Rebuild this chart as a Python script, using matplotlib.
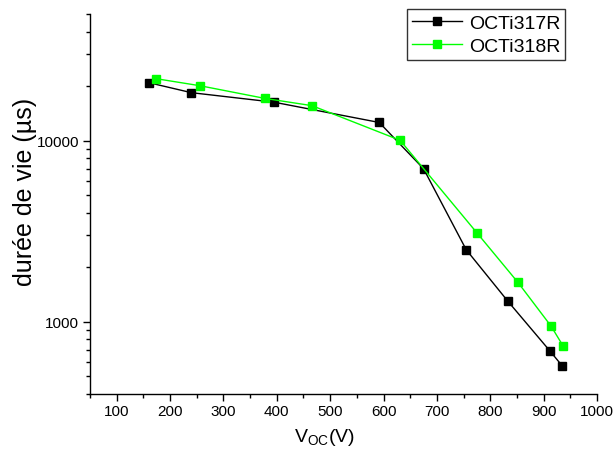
import matplotlib
matplotlib.use('Agg')
import matplotlib.pyplot as plt
from matplotlib.ticker import FixedLocator, LogLocator, NullFormatter, FuncFormatter, MultipleLocator

plt.rcParams['font.family'] = ['Liberation Sans', 'DejaVu Sans']
plt.rcParams['mathtext.default'] = 'regular'

# OCTi317R (black)
v_317 = [160, 240, 395, 592, 675, 755, 833, 912, 935]
tau_317 = [20900, 18400, 16300, 12600, 7000, 2500, 1300, 690, 571]

# OCTi318R (green)
v_318 = [173, 256, 378, 466, 631, 775, 852, 914, 937]
tau_318 = [22000, 20100, 17100, 15600, 10050, 3100, 1650, 947, 732]

fig = plt.figure(figsize=(6.14, 4.6), dpi=100)
ax = fig.add_axes([0.1466, 0.1413, 0.8257, 0.8261])

ax.plot(v_317, tau_317, '-s', color='black', lw=1, ms=6, mec='black', label='OCTi317R')
ax.plot(v_318, tau_318, '-s', color='#00ff00', lw=1, ms=6, mec='#00ff00', label='OCTi318R')

ax.set_yscale('log')
ax.set_xlim(50, 1000)
ax.set_ylim(400, 50000)

ax.xaxis.set_major_locator(MultipleLocator(100))
ax.xaxis.set_minor_locator(MultipleLocator(50))
ax.yaxis.set_major_locator(FixedLocator([1000, 10000]))
ax.yaxis.set_minor_locator(LogLocator(base=10, subs=range(2, 10)))
ax.yaxis.set_major_formatter(FuncFormatter(lambda v, p: '%d' % v))
ax.yaxis.set_minor_formatter(NullFormatter())

for s in ['top', 'right']:
    ax.spines[s].set_visible(False)
ax.spines['left'].set_linewidth(1)
ax.spines['bottom'].set_linewidth(1)
ax.tick_params(which='major', direction='out', length=5, width=1, labelsize=11, pad=2)
ax.tick_params(axis='y', which='major', pad=3)
ax.tick_params(which='minor', direction='out', length=3, width=1)

ax.set_xlabel('V$_{OC}$(V)', fontsize=14, va='top')
ax.xaxis.set_label_coords(0.462, -0.083)
ax.set_ylabel('durée de vie (µs)', fontsize=18, va='center')
ax.yaxis.set_label_coords(-0.128, 0.535)

leg = ax.legend(loc='upper left', bbox_to_anchor=(0.625, 1.013), fontsize=14,
                frameon=True, fancybox=False, edgecolor='black', handlelength=2.6,
                handletextpad=0.35, borderpad=0.25, labelspacing=0.3, borderaxespad=0)
leg.get_frame().set_linewidth(1)

fig.savefig('out.png', dpi=100)
